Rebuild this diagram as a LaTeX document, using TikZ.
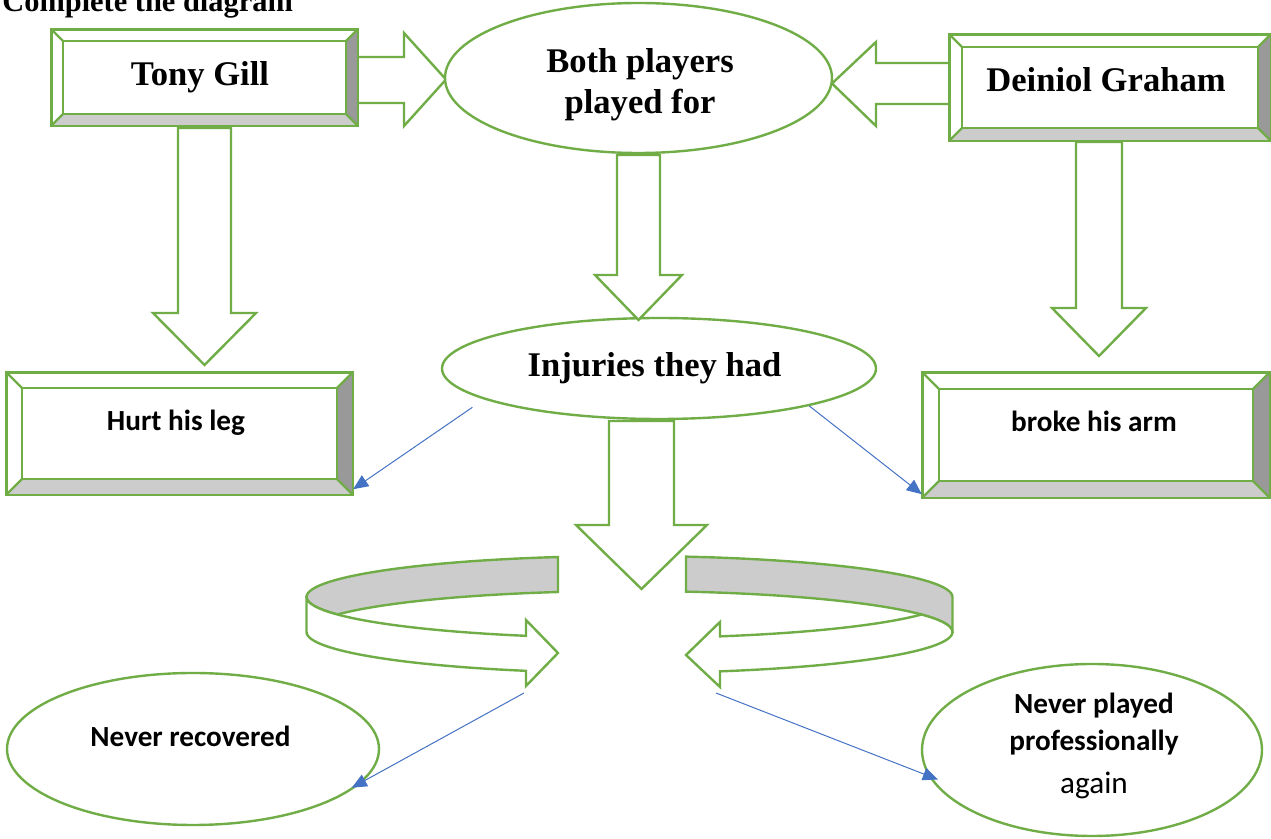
\documentclass[tikz,border=0pt]{standalone}
\usepackage{fontspec}
\setmainfont{Liberation Serif}
\newfontfamily\carl{Carlito}
\usetikzlibrary{calc,arrows.meta,shapes.geometric}
\definecolor{gr}{HTML}{70AD47}
\definecolor{bl}{HTML}{4472C4}
\definecolor{dface}{HTML}{999999}
\definecolor{lface}{HTML}{CCCCCC}
\tikzset{
  gline/.style={draw=gr, line width=1.2pt, line join=miter},
  blkarrow/.style={gline, fill=white},
  outerbox/.style={rectangle, draw=gr, line width=1.2pt, fill=white, inner sep=0pt},
  ellbox/.style={ellipse, draw=gr, line width=1.2pt, fill=white, inner sep=0pt},
  serifbold/.style={font=\fontsize{17.3}{20.5}\selectfont\bfseries, inner sep=0pt},
  calbold/.style={font=\carl\fontsize{14.6}{18.5}\selectfont\bfseries, inner sep=0pt},
  thinarrow/.style={draw=bl, line width=0.5pt, -{Triangle[length=7.5pt,width=6.5pt]}},
}
% name, cx, cy, width px, height px, bevel px
\newcommand\bevbox[6]{%
  \node[outerbox, minimum width={#4*0.5pt}, minimum height={#5*0.5pt}] (#1) at (#2,#3) {};
  \fill[dface] (#1.north east) -- (#1.south east) -- ($(#1.south east)+(-#6,-#6)$) -- ($(#1.north east)+(-#6,#6)$) -- cycle;
  \fill[lface] (#1.south west) -- (#1.south east) -- ($(#1.south east)+(-#6,-#6)$) -- ($(#1.south west)+(#6,-#6)$) -- cycle;
  \draw[gline] ($(#1.north west)+(#6,#6)$) rectangle ($(#1.south east)+(-#6,-#6)$);
  \draw[gline] (#1.north west) -- ++(#6,#6) (#1.north east) -- ++(-#6,#6)
               (#1.south west) -- ++(#6,-#6) (#1.south east) -- ++(-#6,-#6);
  \draw[gline] (#1.north west) rectangle (#1.south east);
}
\begin{document}
\begin{tikzpicture}[x=0.5pt,y=-0.5pt]
\useasboundingbox (0,0) rectangle (1271,839);

% title
\node[serifbold, anchor=base west] (title) at (2,12) {\fontsize{15.2}{18}\selectfont Complete the diagram};

% block arrows
\draw[blkarrow] (357,57) -- (404,57) -- (404,33) -- (446,79.5) -- (404,126) -- (404,103) -- (357,103) -- cycle;
\draw[blkarrow] (950,63) -- (876,63) -- (876,42) -- (832,83.5) -- (876,126) -- (876,104) -- (950,104) -- cycle;
\draw[blkarrow] (178,128) -- (178,313) -- (153,313) -- (204.5,365) -- (256,313) -- (231,313) -- (231,128) -- cycle;
\draw[blkarrow] (1076,142) -- (1076,308) -- (1052,308) -- (1099,356) -- (1146,308) -- (1122,308) -- (1122,142) -- cycle;

% boxes
\bevbox{tony}{204.5}{77.5}{305}{95}{12}
\bevbox{deiniol}{1110}{87.5}{320}{105}{13}
\bevbox{leg}{179.5}{433.5}{345}{121}{16}
\bevbox{arm}{1096}{435}{346}{124}{17}

% ellipses
\node[ellbox, minimum width=193.5pt, minimum height=75pt] (both) at (638.5,78) {};
\node[ellbox, minimum width=217pt, minimum height=50.5pt] (inj) at (659,368.5) {};
\node[ellbox, minimum width=186pt, minimum height=76pt] (rec) at (193,749) {};
\node[ellbox, minimum width=170pt, minimum height=86pt] (pro) at (1092,750) {};

\draw[blkarrow] (617,155) -- (617,275) -- (595,275) -- (638.5,320) -- (682,275) -- (660,275) -- (660,155) -- cycle;
\draw[blkarrow] (609,421) -- (609,525) -- (576,525) -- (641.5,589) -- (707,525) -- (674,525) -- (674,421) -- cycle;

% curved ribbon arrows
\draw[gline, fill=lface]
  plot[domain=257.2:180, samples=30, variable=\t] ({629.5+323*cos(\t)},{597+41*sin(\t)})
  -- plot[domain=180:154.7, samples=8, variable=\t] ({629.5+323*cos(\t)},{597+41*sin(\t)})
  -- plot[domain=205.3:257.2, samples=25, variable=\t] ({629.5+323*cos(\t)},{632+41*sin(\t)})
  -- cycle;
\draw[gline, fill=white]
  plot[domain=180:108.7, samples=30, variable=\t] ({629.5+323*cos(\t)},{597+41*sin(\t)})
  -- (526,620) -- (558,653) -- (526,686)
  -- plot[domain=108.7:180, samples=30, variable=\t] ({629.5+323*cos(\t)},{632+41*sin(\t)})
  -- cycle;
\draw[gline, fill=lface]
  plot[domain=280.07:360, samples=30, variable=\t] ({629.5+323*cos(\t)},{597+41*sin(\t)})
  -- plot[domain=360:280.07, samples=30, variable=\t] ({629.5+323*cos(\t)},{632+41*sin(\t)})
  -- cycle;
\draw[gline, fill=white]
  plot[domain=25.3:73.73, samples=20, variable=\t] ({629.5+323*cos(\t)},{597+41*sin(\t)})
  -- (720,622) -- (686,655) -- (720,687)
  -- plot[domain=73.73:0, samples=30, variable=\t] ({629.5+323*cos(\t)},{632+41*sin(\t)})
  -- plot[domain=360:334.7, samples=8, variable=\t] ({629.5+323*cos(\t)},{632+41*sin(\t)})
  -- cycle;

% texts
\node[serifbold, anchor=base] (tonyT) at (200,86) {Tony Gill};
\node[serifbold, anchor=base] (deinT) at (1106,92) {Deiniol Graham};
\node[serifbold, align=center, anchor=center] (bothT) at (640,84.6) {Both players\\played for};
\node[serifbold, anchor=base] (injT) at (654.5,377) {Injuries they had};
\node[calbold, anchor=base] (legT) at (176,431) {Hurt his leg};
\node[calbold, anchor=base] (armT) at (1094,432) {broke his arm};
\node[calbold, anchor=base] (recT) at (190.5,747) {Never recovered};
\node[calbold, align=center, anchor=center] (proT) at (1094,746)
  {Never played\\professionally\\[3pt]{\mdseries\fontsize{15.6}{18.5}\selectfont again}};

% thin connectors
\coordinate (ls) at (524,693);
\coordinate (rs) at (716,693);
\draw[thinarrow, shorten <=7pt] (inj.190) -- ([yshift=3pt]leg.south east);
\draw[thinarrow] (inj.346) -- ([yshift=2pt]arm.south west);
\draw[thinarrow, shorten >=-6pt] (ls) -- (rec.349);
\draw[thinarrow, shorten >=-5pt] (rs) -- (pro.189);
\end{tikzpicture}
\end{document}
